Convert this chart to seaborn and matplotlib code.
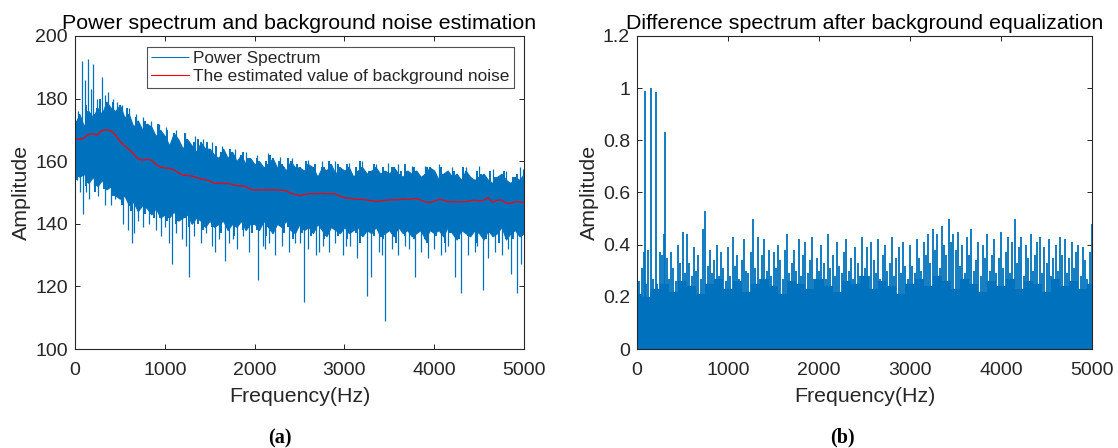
import numpy as np
import pandas as pd
import matplotlib
matplotlib.use("Agg")
import matplotlib.pyplot as plt
import seaborn as sns

# ---- data ----
# (a) power spectrum: top / bottom of the dense band every 50 Hz
freq_a = np.arange(0, 5001, 50)
upper_a = [172, 175, 171, 176, 174, 177, 175, 179, 177, 176,
           178, 174, 175, 171, 173, 170, 172, 171, 168, 170,
           168, 165, 169, 167, 164, 167, 165, 163, 166, 164,
           164, 162, 161, 164, 161, 163, 160, 162, 159, 161,
           159, 160, 158, 159, 161, 158, 159, 157, 160, 158,
           158, 157, 159, 158, 155, 158, 157, 159, 156, 158,
           157, 158, 155, 157, 158, 156, 157, 158, 156, 157,
           156, 158, 156, 155, 157, 156, 157, 155, 156, 158,
           157, 154, 156, 157, 155, 156, 154, 157, 155, 154,
           155, 156, 154, 153, 155, 156, 154, 153, 155, 154,
           156]
lower_a = [158, 155, 156, 153, 155, 152, 154, 151, 152, 149,
           148, 149, 146, 147, 144, 146, 145, 143, 145, 142,
           143, 142, 144, 141, 142, 143, 140, 142, 141, 139,
           141, 139, 140, 141, 138, 140, 139, 141, 138, 140,
           140, 138, 141, 139, 137, 140, 139, 141, 138, 137,
           140, 138, 139, 137, 140, 138, 136, 139, 138, 137,
           139, 137, 138, 139, 136, 138, 137, 139, 136, 137,
           138, 136, 139, 137, 138, 136, 137, 138, 135, 138,
           137, 138, 136, 139, 137, 135, 138, 137, 136, 138,
           137, 135, 138, 136, 137, 139, 135, 137, 138, 136,
           137]
# same band at the in-between frequencies (25, 75, ... Hz)
freq_a2 = np.arange(25, 5000, 50)
upper_a2 = [173, 171, 178, 172, 175, 180, 176, 174, 179, 175,
            173, 177, 172, 174, 169, 173, 170, 168, 172, 167,
            170, 166, 168, 164, 169, 163, 166, 167, 162, 166,
            161, 165, 163, 160, 164, 162, 159, 163, 161, 158,
            161, 157, 160, 162, 157, 160, 158, 161, 157, 159,
            156, 160, 157, 159, 156, 158, 160, 155, 159, 157,
            159, 155, 158, 160, 156, 157, 159, 155, 158, 156,
            158, 155, 157, 159, 155, 158, 156, 154, 158, 157,
            155, 158, 156, 154, 157, 155, 158, 156, 153, 157,
            156, 153, 157, 155, 154, 157, 153, 155, 156, 153]
lower_a2 = [154, 158, 152, 157, 150, 155, 151, 153, 149, 152,
            146, 150, 144, 148, 145, 143, 147, 142, 146, 143,
            141, 145, 140, 144, 142, 139, 143, 140, 138, 143,
            139, 142, 137, 141, 139, 136, 140, 138, 141, 137,
            138, 141, 136, 140, 138, 141, 137, 139, 135, 140,
            137, 140, 136, 139, 141, 135, 138, 140, 136, 139,
            135, 139, 137, 134, 138, 140, 136, 138, 135, 139,
            137, 134, 139, 136, 138, 135, 140, 137, 134, 138,
            136, 139, 134, 137, 140, 135, 138, 136, 139, 134,
            138, 135, 137, 139, 134, 138, 136, 135, 139, 136]
# estimated background noise (red curve), every 50 Hz
noise_a = [167.1, 167.0, 167.4, 168.6, 168.7, 168.4, 169.8, 170.0, 169.8, 168.4,
           166.4, 165.0, 163.8, 162.4, 160.8, 160.3, 160.6, 160.4, 159.0, 158.1,
           157.9, 157.7, 157.3, 156.3, 155.6, 155.4, 155.3, 154.8, 154.4, 154.1,
           153.7, 152.9, 152.9, 152.9, 152.9, 152.6, 152.2, 152.1, 152.0, 151.0,
           150.8, 150.8, 150.9, 150.8, 150.9, 150.8, 150.7, 150.6, 149.8, 149.4,
           149.0, 149.3, 149.6, 149.6, 149.6, 149.7, 149.6, 149.6, 149.6, 148.8,
           148.3, 148.2, 148.0, 147.8, 147.8, 147.6, 147.4, 147.1, 147.3, 147.5,
           147.6, 147.7, 147.7, 147.8, 147.8, 147.9, 148.1, 147.6, 147.0, 146.8,
           147.2, 147.8, 147.6, 147.1, 147.0, 147.0, 147.0, 147.1, 147.3, 147.6,
           147.3, 147.5, 148.4, 146.9, 147.5, 147.6, 146.6, 146.5, 147.1, 147.0,
           146.8]
# isolated peaks above / dips below the band
up_f = [30, 80, 110, 147, 175, 197, 240, 297, 330, 370, 420, 470, 520, 600, 680,
        760, 850, 940, 1010, 1120, 1230, 1340, 1420, 1530, 1640, 1780, 1900, 2030,
        2150, 2280, 2420, 2600, 2750, 2900, 3050, 3200, 3350, 3480, 3600, 3750,
        3900, 4050, 4200, 4350, 4500, 4650, 4800, 4950, 4990]
up_v = [176, 192, 186, 192.5, 183, 191, 180, 187, 181, 182, 180, 179, 178, 177, 175,
        174, 173, 172, 171, 170, 169, 168, 167, 166, 165, 164, 163, 162,
        162.5, 161.5, 161, 160.5, 160, 160, 159.5, 160, 159, 159.5, 159, 158.5,
        158.5, 159, 158, 158, 158.5, 157.5, 157, 158, 157.5]
dn_f = [20, 60, 88, 120, 160, 210, 260, 330, 400, 450, 540, 590, 633, 660, 700,
        760, 820, 900, 960, 1000, 1077, 1130, 1190, 1270, 1320, 1400, 1460, 1530,
        1600, 1670, 1720, 1800, 1870, 1940, 2034, 2090, 2160, 2230, 2300, 2380,
        2450, 2550, 2600, 2680, 2760, 2830, 2900, 2980, 3060, 3140, 3248, 3300,
        3380, 3452, 3530, 3600, 3680, 3786, 3850, 3930, 4000, 4080, 4150, 4230,
        4298, 4380, 4450, 4544, 4600, 4680, 4760, 4850, 4922, 4970,
        1050, 1240, 1560, 1760, 2120, 2500, 2720, 3020, 3420, 3720, 4120, 4480, 4820]
dn_v = [154, 150, 143, 150, 148, 152, 149, 146, 146, 148, 140, 138, 134, 137, 141,
        139, 140, 138, 136, 139, 127, 137, 135, 123, 136, 134, 137, 133,
        135, 128, 134, 132, 136, 131, 122, 133, 134, 130, 133, 131,
        134, 115, 132, 130, 133, 131, 134, 130, 133, 129, 117, 123,
        131, 109, 132, 130, 133, 123, 131, 129, 132, 130, 133, 123,
        118, 130, 131, 119, 129, 131, 130, 124, 118, 127,
        134, 133, 131, 135, 132, 134, 131, 133, 130, 132, 131, 133, 132]

# (b) difference spectrum, spike tops every 25 Hz
freq_b = np.arange(0, 5001, 25)
peak_b = [0.24, 0.26, 0.31, 0.37, 0.25, 0.38, 0.22, 0.27, 0.21, 0.25, 0.37, 0.36, 0.44, 0.35, 0.27, 0.37, 0.31, 0.26, 0.40, 0.33,
          0.45, 0.29, 0.44, 0.33, 0.28, 0.39, 0.30, 0.36, 0.27, 0.46, 0.53, 0.32, 0.38, 0.29, 0.34, 0.40, 0.28, 0.37, 0.31, 0.26,
          0.39, 0.28, 0.43, 0.32, 0.36, 0.27, 0.34, 0.42, 0.30, 0.29, 0.37, 0.50, 0.31, 0.43, 0.27, 0.36, 0.42, 0.30, 0.38, 0.28,
          0.37, 0.31, 0.40, 0.34, 0.27, 0.38, 0.44, 0.29, 0.33, 0.38, 0.30, 0.42, 0.28, 0.36, 0.41, 0.29, 0.34, 0.43, 0.27, 0.35,
          0.30, 0.40, 0.33, 0.27, 0.44, 0.31, 0.36, 0.28, 0.41, 0.32, 0.29, 0.37, 0.42, 0.30, 0.35, 0.27, 0.39, 0.33, 0.28, 0.43,
          0.31, 0.39, 0.28, 0.41, 0.34, 0.29, 0.42, 0.27, 0.36, 0.40, 0.30, 0.33, 0.43, 0.28, 0.35, 0.39, 0.29, 0.41, 0.32, 0.27,
          0.40, 0.32, 0.29, 0.42, 0.35, 0.30, 0.41, 0.36, 0.44, 0.33, 0.46, 0.38, 0.44, 0.31, 0.47, 0.40, 0.36, 0.50, 0.41, 0.44,
          0.38, 0.45, 0.32, 0.40, 0.29, 0.43, 0.36, 0.46, 0.30, 0.34, 0.41, 0.28, 0.40, 0.35, 0.44, 0.30, 0.36, 0.42, 0.29, 0.35,
          0.45, 0.31, 0.37, 0.43, 0.29, 0.41, 0.50, 0.33, 0.39, 0.43, 0.28, 0.40, 0.35, 0.44, 0.30, 0.36, 0.41, 0.43, 0.29, 0.39,
          0.33, 0.42, 0.28, 0.35, 0.40, 0.30, 0.43, 0.36, 0.42, 0.29, 0.35, 0.41, 0.31, 0.37, 0.40, 0.28, 0.39, 0.34, 0.27, 0.37,
          0.48]
# solid floor of the difference spectrum, every 100 Hz
freq_floor = np.arange(0, 5001, 100)
floor_b = [0.21, 0.20, 0.23, 0.25, 0.22, 0.26, 0.24, 0.21, 0.25, 0.27,
           0.23, 0.26, 0.22, 0.25, 0.27, 0.24, 0.21, 0.26, 0.25, 0.23,
           0.27, 0.24, 0.22, 0.26, 0.25, 0.28, 0.23, 0.26, 0.24, 0.21,
           0.25, 0.27, 0.24, 0.28, 0.26, 0.23, 0.27, 0.25, 0.22, 0.26,
           0.24, 0.27, 0.23, 0.26, 0.25, 0.22, 0.27, 0.24, 0.26, 0.23,
           0.25]
big_f = [85, 157, 209, 308]
big_v = [0.99, 1.0, 0.987, 0.832]

xticks = [0, 1000, 2000, 3000, 4000, 5000]
yticks_a = [100, 120, 140, 160, 180, 200]
yticks_b = [0, 0.2, 0.4, 0.6, 0.8, 1, 1.2]

# ---- style ----
sns.set_theme(style="ticks")
plt.rcParams['font.family'] = ['Liberation Sans', 'DejaVu Sans']
blue = '#0072BD'
grey = '#262626'

fig = plt.figure(figsize=(11.18, 4.48), dpi=100)
ax1 = fig.add_axes([75/1118, 99/448, 449/1118, 313/448])
ax2 = fig.add_axes([637/1118, 99/448, 455/1118, 313/448])

# (a) solid core of the band + ragged edges + isolated peaks
ax1.fill_between(freq_a, lower_a, upper_a, color=blue, lw=0.8, edgecolor=blue)
ax1.vlines(freq_a, lower_a, upper_a, color=blue, lw=1.4)
ax1.vlines(freq_a2, lower_a2, upper_a2, color=blue, lw=1.4)
noise_at = np.interp(up_f, freq_a, noise_a)
ax1.vlines(up_f, noise_at, up_v, color=blue, lw=0.9, label='Power Spectrum')
noise_dn = np.interp(dn_f, freq_a, noise_a)
ax1.vlines(dn_f, noise_dn, dn_v, color=blue, lw=0.9)
sns.lineplot(x=freq_a, y=noise_a, color='red', lw=0.9, ax=ax1,
             label='The estimated value of background noise')

# (b)
ax2.fill_between(freq_floor, 0, floor_b, color=blue, lw=0, step='mid')
ax2.vlines(freq_b, 0, peak_b, color=blue, lw=1.3)
ax2.vlines(big_f, 0, big_v, color=blue, lw=1.3)

titles = ['Power spectrum and background noise estimation',
          'Difference spectrum after background equalization']
for ax, yt, ttl in [(ax1, yticks_a, titles[0]), (ax2, yticks_b, titles[1])]:
    ax.set_xlim(0, 5000)
    ax.set_ylim(yt[0], yt[-1])
    ax.set_xticks(xticks)
    ax.set_yticks(yt)
    ax.set_yticklabels(['%g' % v for v in yt])
    ax.tick_params(direction='in', top=True, right=True, length=3.6, width=0.7,
                   labelsize=14, colors=grey)
    ax.tick_params(axis='x', pad=9)
    ax.tick_params(axis='y', pad=5)
    for s in ax.spines.values():
        s.set_visible(True)
        s.set_color(grey)
        s.set_linewidth(0.8)
    ax.set_xlabel('Frequency(Hz)', fontsize=15.4, color=grey, labelpad=6)
    ax.set_ylabel('Amplitude', fontsize=15.4, color=grey, labelpad=3)
    ax.set_title(ttl, fontsize=15.4, color='black', pad=5)

leg = ax1.legend(loc='upper right', bbox_to_anchor=(0.978, 0.965), borderaxespad=0,
                 fontsize=12.4, frameon=True, fancybox=False, borderpad=0.25,
                 labelspacing=0.15, handlelength=2.2, handletextpad=0.25)
leg.get_frame().set_edgecolor(grey)
leg.get_frame().set_linewidth(0.8)
for h in leg.legend_handles:
    h.set_linewidth(0.8)

fig.text(280/1118, 1 - 438/448, '(a)', ha='center', va='center', fontsize=14.5,
         fontweight='bold', family='Liberation Serif', color='black')
fig.text(842/1118, 1 - 437/448, '(b)', ha='center', va='center', fontsize=14.5,
         fontweight='bold', family='Liberation Serif', color='black')

fig.savefig('out.png', dpi=100)
